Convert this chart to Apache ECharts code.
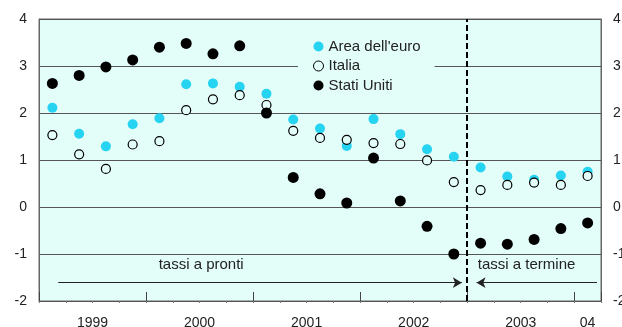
<!DOCTYPE html>
<html>
<head>
<meta charset="utf-8">
<script src="https://cdn.jsdelivr.net/npm/echarts@6/dist/echarts.min.js"></script>
<style>
  html, body { margin: 0; padding: 0; background: #ffffff; }
  #chart { width: 622px; height: 327px; }
</style>
</head>
<body>
<div id="chart"></div>
<script>
// Quarterly observations, 1999 Q1 - 2004 Q1 (spot rates to 2002, forward rates from 2003)
const quarters = ['1999T1','1999T2','1999T3','1999T4','2000T1','2000T2','2000T3','2000T4',
                  '2001T1','2001T2','2001T3','2001T4','2002T1','2002T2','2002T3','2002T4',
                  '2003T1','2003T2','2003T3','2003T4','2004T1'];
const areaEuro  = [2.11, 1.56, 1.29, 1.76, 1.89, 2.61, 2.63, 2.56, 2.41, 1.86, 1.67, 1.30,
                   1.87, 1.55, 1.23, 1.07, 0.84, 0.65, 0.58, 0.67, 0.75];
const italia    = [1.53, 1.12, 0.81, 1.33, 1.40, 2.06, 2.29, 2.38, 2.17, 1.62, 1.47, 1.43,
                   1.36, 1.34, 0.99, 0.53, 0.36, 0.47, 0.52, 0.47, 0.66];
const statiUniti = [2.63, 2.80, 2.98, 3.13, 3.40, 3.48, 3.26, 3.43, 2.00, 0.63, 0.28, 0.085,
                    1.04, 0.13, -0.41, -1.00, -0.77, -0.79, -0.69, -0.46, -0.34];

// Year labels and their positions on the quarter scale (centre of each year)
const yearLabels = ['1999', '2000', '2001', '2002', '2003', '04'];
const yearPos    = [2, 6, 10, 14, 18, 20.5];
const yTicks     = [-2, -1, 0, 1, 2, 3, 4];

const BG = '#e3fdf9';
const CYAN = '#26d4f2';
const FONT = 'Liberation Sans, Arial, sans-serif';

const pts = arr => arr.map((v, i) => [i + 0.5, v]);

const chart = echarts.init(document.getElementById('chart'), null, { renderer: 'canvas' });

const baseX = {
  type: 'value', min: 0, max: quarters.length, position: 'bottom',
  splitLine: { show: false }
};

chart.setOption({
  animation: false,
  textStyle: { fontFamily: FONT, color: '#222' },
  grid: {
    left: 39, right: 21, top: 19, bottom: 26,
    outerBoundsMode: 'none',
    containLabel: false,
    show: true, backgroundColor: BG, borderColor: '#666', borderWidth: 1
  },
  legend: {
    orient: 'vertical',
    left: 298, top: 35.5,
    padding: [3, 14, 3, 15],
    itemGap: 3.5,
    itemWidth: 10, itemHeight: 10,
    backgroundColor: BG,
    textStyle: { fontSize: 15, lineHeight: 16, color: '#222', fontFamily: FONT },
    data: [
      { name: "Area dell'euro", icon: 'circle' },
      { name: 'Italia', icon: 'circle', itemStyle: { borderWidth: 1 } },
      { name: 'Stati Uniti', icon: 'circle' }
    ]
  },
  xAxis: [
    Object.assign({}, baseX, { // year boundaries
      interval: 4,
      axisLine: { show: true, onZero: false, lineStyle: { color: '#555' } },
      axisTick: { show: true, inside: true, length: 9, lineStyle: { color: '#444' } },
      axisLabel: { show: false }
    }),
    Object.assign({}, baseX, { // quarter ticks
      interval: 1,
      axisLine: { show: false, onZero: false },
      axisTick: { show: true, inside: false, length: 2, lineStyle: { color: '#777' } },
      axisLabel: { show: false }
    }),
    Object.assign({}, baseX, { // year labels
      interval: 0.5,
      axisLine: { show: false, onZero: false },
      axisTick: { show: false },
      axisLabel: {
        show: true, margin: 15, fontSize: 14, color: '#222', fontFamily: FONT,
        formatter: v => { const k = yearPos.indexOf(v); return k >= 0 ? yearLabels[k] : ''; }
      }
    })
  ],
  yAxis: [
    {
      type: 'value', min: yTicks[0], max: yTicks[yTicks.length - 1], interval: 1,
      axisLine: { show: true, onZero: false, lineStyle: { color: '#666' } },
      axisTick: { show: false },
      axisLabel: { margin: 12, fontSize: 14, color: '#222', fontFamily: FONT },
      splitLine: { show: true, lineStyle: { color: '#555', width: 1 } }
    },
    {
      type: 'value', position: 'right', min: yTicks[0], max: yTicks[yTicks.length - 1], interval: 1,
      axisLine: { show: true, onZero: false, lineStyle: { color: '#666' } },
      axisTick: { show: false },
      axisLabel: { margin: 12, fontSize: 14, color: '#222', fontFamily: FONT },
      splitLine: { show: false }
    }
  ],
  series: [
    {
      name: "Area dell'euro", type: 'scatter', data: pts(areaEuro),
      symbol: 'circle', symbolSize: 10,
      itemStyle: { color: CYAN, opacity: 1 }, z: 3,
      markLine: {
        silent: true, animation: false,
        symbol: 'none',
        label: { show: false },
        lineStyle: { color: '#000', width: 2, type: [6, 3] },
        data: [{ xAxis: 16 }]
      }
    },
    {
      name: 'Italia', type: 'scatter', data: pts(italia),
      symbol: 'circle', symbolSize: 9,
      itemStyle: { color: BG, borderColor: '#000', borderWidth: 1.2, opacity: 1 }, z: 4
    },
    {
      name: 'Stati Uniti', type: 'scatter', data: pts(statiUniti),
      symbol: 'circle', symbolSize: 11,
      itemStyle: { color: '#000', opacity: 1 }, z: 5,
      markLine: {
        silent: true, animation: false,
        symbol: ['none', 'arrow'], symbolSize: [8, 9],
        label: { show: false },
        lineStyle: { color: '#222', width: 1, type: 'solid' },
        data: [
          [{ coord: [0.72, -1.61] }, { coord: [15.8, -1.61] }],
          [{ coord: [20.85, -1.61] }, { coord: [16.35, -1.61] }]
        ]
      },
      markPoint: {
        silent: true, animation: false,
        symbol: 'circle', symbolSize: 0,
        label: { show: true, position: 'inside', fontSize: 15, color: '#222', fontFamily: FONT },
        data: [
          { coord: [6.06, -1.23], label: { formatter: 'tassi a pronti' } },
          { coord: [18.22, -1.23], label: { formatter: 'tassi a termine' } }
        ]
      }
    }
  ]
});
</script>
</body>
</html>
